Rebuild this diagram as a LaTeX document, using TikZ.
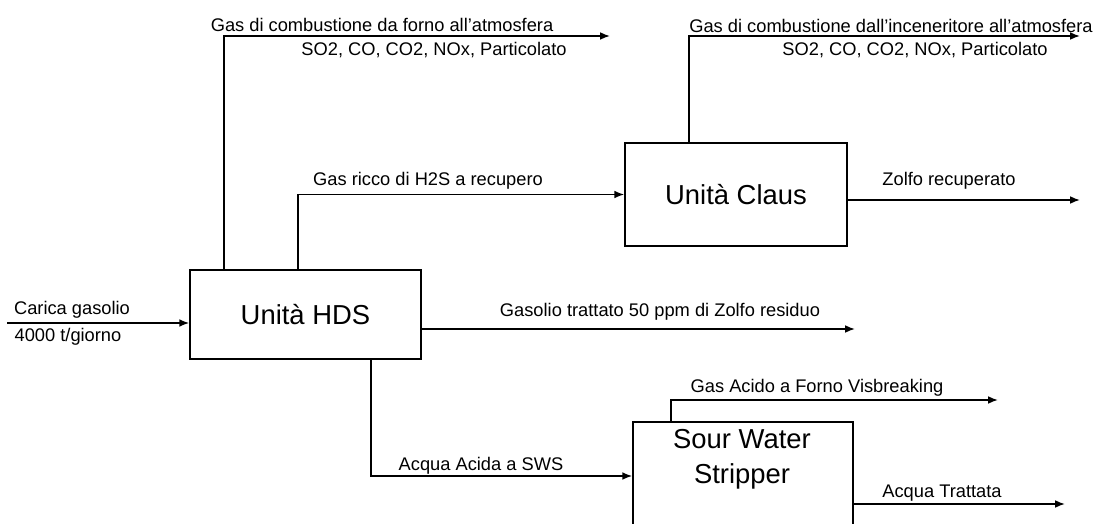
\documentclass[tikz,border=0pt]{standalone}
\usepackage{fontspec}
\setmainfont{Liberation Sans}
\usetikzlibrary{positioning, arrows.meta}

\begin{document}
\begin{tikzpicture}[>={Latex[length=7pt,width=5.5pt]}, x=0.025cm, y=-0.025cm, line width=1.1pt,
    unita/.style={draw, font=\fontsize{19.5}{25}\selectfont},
    etich/.style={font=\fontsize{13}{15}\selectfont, inner sep=0pt}]
    \useasboundingbox (0,0) rectangle (1102,524);
    \clip (0,0) rectangle (1102,524);

    % Unità di processo
    \node[unita, minimum width=5.775cm, minimum height=2.225cm] (hds) at (305.5,314.5) {Unità HDS};
    \node[unita, minimum width=5.55cm, minimum height=2.575cm] (claus) at (736,194.5) {Unità Claus};
    \node[unita, minimum width=5.5cm, minimum height=3.45cm] (sws) at (743,491) {};
    \node[align=center, font=\fontsize{19.5}{25}\selectfont] (swstesto) at (742,459) {Sour Water\\Stripper};

    % Carica
    \coordinate (carica) at (7,323);
    \draw[->] (carica) -- (carica -| hds.west);
    \node[etich] (carica1) at (72,310) {Carica gasolio};
    \node[etich] (carica2) at (68,337) {4000 t/giorno};

    % Fumi forno
    \coordinate (fumi1) at (610,36);
    \draw[->] (224,0 |- hds.north) |- (fumi1);
    \node[etich] (fumi1a) at (382,25) {Gas di combustione da forno all'atmosfera};
    \node[etich] (fumi1b) at (434,50) {SO2, CO, CO2, NOx, Particolato};

    % Gas ricco di H2S
    \draw[->] (298,0 |- hds.north) |- (claus.west);
    \node[etich] (h2s) at (428,181) {Gas ricco di H2S a recupero};

    % Fumi inceneritore
    \coordinate (fumi2) at (1080,36);
    \draw[->] (689,0 |- claus.north) |- (fumi2);
    \node[etich] (fumi2a) at (891,26) {Gas di combustione dall'inceneritore all'atmosfera};
    \node[etich] (fumi2b) at (915,50) {SO2, CO, CO2, NOx, Particolato};

    % Zolfo
    \coordinate (zolfo) at (1080,200);
    \draw[->] (zolfo -| claus.east) -- (zolfo);
    \node[etich] (zolfotesto) at (949,181) {Zolfo recuperato};

    % Gasolio trattato
    \coordinate (gasolio) at (855,329);
    \draw[->] (gasolio -| hds.east) -- (gasolio);
    \node[etich] (gasoliotesto) at (660,312) {Gasolio trattato 50 ppm di Zolfo residuo};

    % Acqua acida
    \draw[->] (371,0 |- hds.south) |- (sws.west |- 0,476);
    \node[etich] (acida) at (481,466) {Acqua Acida a SWS};

    % Sour water stripper
    \coordinate (visbr) at (998,400);
    \draw[->] (671,0 |- sws.north) |- (visbr);
    \node[etich] (visbrtesto) at (817,388) {Gas Acido a Forno Visbreaking};

    \coordinate (trattata) at (1065,504);
    \draw[->] (trattata -| sws.east) -- (trattata);
    \node[etich] (trattatatesto) at (942,493) {Acqua Trattata};
\end{tikzpicture}
\end{document}
